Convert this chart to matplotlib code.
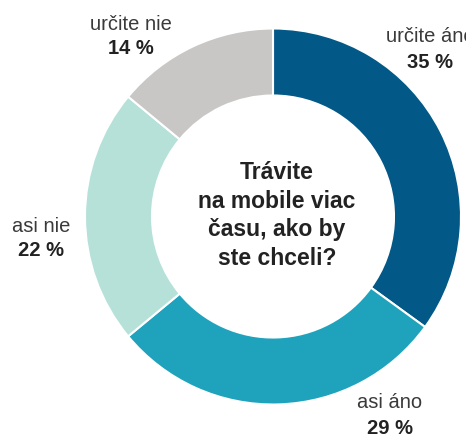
import matplotlib

matplotlib.use("Agg")
import matplotlib.pyplot as plt

categories = ["určite áno", "asi áno", "asi nie", "určite nie"]
shares = [35, 29, 22, 14]
colors = ["#025886", "#1fa3bd", "#b5e1d9", "#c8c7c5"]
question = "Trávite\nna mobile viac\nčasu, ako by\nste chceli?"

# label anchor points in pixels (x, y from top)
label_pos = [(430, 37), (390, 403), (41, 226), (131, 24)]

W, H = 466, 434
plt.rcParams["font.family"] = ["Liberation Sans", "DejaVu Sans"]

fig = plt.figure(figsize=(W / 100, H / 100), dpi=100)
ax = fig.add_axes([0, 0, 1, 1])

cx, cy, r_out, r_in = 273, H - 216.5, 188, 121
ax.pie(
    shares,
    colors=colors,
    startangle=90,
    counterclock=False,
    radius=r_out,
    center=(cx, cy),
    wedgeprops=dict(width=r_out - r_in, edgecolor="white", linewidth=1.5),
    frame=True,
)
ax.set_xlim(0, W)
ax.set_ylim(0, H)
ax.set_aspect("equal")
ax.axis("off")

for name, val, (lx, ly) in zip(categories, shares, label_pos):
    ax.text(lx, H - ly, name, ha="center", va="center", fontsize=14.5, color="#3a3a3a")
    ax.text(lx, H - ly - 25, f"{val} %", ha="center", va="center", fontsize=14.5,
            fontweight="bold", color="#222222")

ax.text(cx + 4, cy + 1, question, ha="center", va="center", fontsize=16.5,
        fontweight="bold", color="#222222", linespacing=1.32)

fig.savefig("out.png", dpi=100)
